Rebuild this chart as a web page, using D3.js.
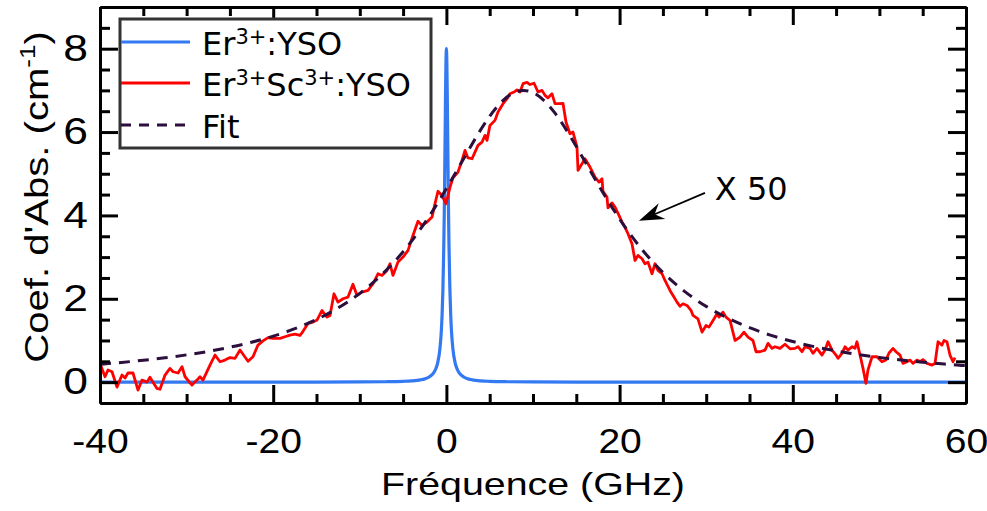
<!DOCTYPE html>
<html>
<head>
<meta charset="utf-8">
<script src="https://cdn.jsdelivr.net/npm/d3@7"></script>
<style>
html,body{margin:0;padding:0;background:#fff;}
svg{display:block;}
</style>
</head>
<body>
<svg id="chart" width="987" height="511"></svg>
<script>
// ---------- DATA ----------
// Er3+Sc3+:YSO spectrum (x50), [GHz, cm^-1]
const redSpectrum = [[-40.00,0.45],[-39.42,0.13],[-39.08,0.29],[-38.61,0.25],[-38.04,-0.12],[-37.46,0.17],[-37.11,0.10],[-36.77,0.22],[-36.19,0.22],[-35.61,-0.19],[-35.15,0.05],[-34.57,0.00],[-34.23,0.12],[-33.88,0.00],[-33.42,-0.15],[-33.07,-0.17],[-32.49,0.17],[-31.92,0.33],[-31.57,0.25],[-30.99,0.22],[-30.53,0.37],[-30.18,0.13],[-29.38,-0.07],[-28.80,0.05],[-28.45,0.13],[-28.11,0.05],[-27.30,0.41],[-26.72,0.65],[-26.14,0.49],[-25.57,0.53],[-24.99,0.59],[-24.41,0.57],[-23.83,0.77],[-22.91,0.50],[-22.33,0.61],[-21.76,0.89],[-21.18,0.99],[-20.60,1.07],[-20.02,1.05],[-19.21,1.05],[-18.64,1.09],[-18.06,1.13],[-17.48,1.15],[-16.91,1.12],[-16.56,1.22],[-15.98,1.41],[-15.40,1.44],[-14.94,1.49],[-14.36,1.72],[-13.79,1.56],[-13.44,1.60],[-12.98,2.12],[-12.52,1.92],[-11.94,2.00],[-11.36,2.04],[-10.79,2.35],[-10.32,2.08],[-9.75,2.16],[-9.05,2.20],[-8.48,2.36],[-7.90,2.60],[-7.44,2.56],[-6.86,2.68],[-6.51,2.84],[-6.17,2.56],[-5.59,2.88],[-5.01,3.00],[-4.43,3.16],[-3.86,3.52],[-3.28,3.86],[-2.82,3.76],[-2.24,3.84],[-1.66,3.96],[-1.32,4.28],[-0.97,4.58],[-0.51,4.48],[-0.05,4.28],[0.42,4.68],[0.76,4.90],[1.34,5.04],[1.80,5.32],[2.15,5.56],[2.49,5.38],[2.96,5.36],[3.30,5.52],[3.65,5.68],[4.11,5.76],[4.46,5.92],[4.69,5.80],[5.03,6.16],[5.61,6.28],[5.96,6.48],[6.54,6.68],[7.00,6.80],[7.34,6.92],[7.81,6.96],[8.15,7.01],[8.50,6.96],[8.85,7.16],[9.31,7.19],[9.65,7.14],[10.12,7.17],[10.58,6.96],[11.04,7.00],[11.39,6.88],[11.73,6.82],[12.19,6.92],[12.54,6.68],[13.00,6.68],[13.46,6.69],[13.81,6.24],[14.27,5.96],[14.62,6.00],[15.08,5.64],[15.20,5.08],[15.66,5.24],[16.00,5.36],[16.58,5.16],[17.16,4.92],[17.62,4.80],[17.97,4.88],[18.08,4.58],[18.54,4.44],[18.66,4.18],[19.12,4.30],[19.47,4.20],[19.93,4.00],[20.28,3.84],[20.62,3.72],[20.97,3.56],[21.43,3.32],[21.78,2.92],[22.12,3.04],[22.59,2.96],[22.93,2.84],[23.28,2.88],[23.74,2.60],[24.09,2.84],[24.43,2.68],[24.90,2.60],[25.24,2.44],[25.82,2.20],[26.17,2.08],[26.63,1.92],[26.97,1.82],[27.32,1.88],[27.78,1.84],[28.25,1.72],[28.48,1.60],[29.05,1.52],[29.52,1.20],[29.98,1.36],[30.32,1.32],[30.79,1.48],[31.25,1.64],[31.48,1.56],[31.94,1.68],[32.29,1.56],[32.75,1.48],[33.33,1.00],[33.90,1.08],[34.36,1.20],[34.83,1.08],[35.40,1.00],[35.75,0.73],[36.21,0.73],[36.79,0.77],[37.14,0.93],[37.60,0.81],[37.94,0.85],[38.52,0.81],[39.10,0.91],[39.68,0.80],[40.25,0.81],[40.60,0.85],[41.06,0.73],[41.41,0.85],[41.99,0.81],[42.33,0.69],[42.79,0.81],[43.37,0.65],[43.72,0.77],[44.07,0.97],[44.53,0.77],[44.99,0.65],[45.22,0.57],[45.68,0.69],[46.03,0.85],[46.37,0.77],[46.84,0.85],[47.18,0.81],[47.41,0.97],[47.76,0.65],[48.11,0.33],[48.45,-0.03],[48.68,0.29],[49.15,0.61],[49.72,0.61],[50.30,0.49],[50.76,0.53],[51.11,0.70],[51.57,0.81],[51.92,0.73],[52.38,0.65],[52.72,0.45],[53.19,0.49],[53.53,0.53],[53.88,0.45],[54.34,0.53],[54.69,0.49],[55.03,0.54],[55.50,0.45],[56.07,0.41],[56.42,0.45],[56.77,0.97],[57.23,0.89],[57.46,1.00],[57.80,0.97],[58.15,0.65],[58.50,0.49],[58.73,0.59]];

// Er3+:YSO spectrum, [GHz, cm^-1]
const blueSpectrum = [[-40,0.0003],[-30,0.0006],[-20,0.0012],[-10,0.005],[-7,0.010],[-5,0.020],[-4,0.031],[-3,0.055],[-2.5,0.079],[-2,0.123],[-1.5,0.216],[-1.25,0.31],[-1,0.47],[-0.75,0.80],[-0.6,1.18],[-0.5,1.60],[-0.4,2.25],[-0.3,3.28],[-0.25,4.00],[-0.2,4.88],[-0.15,5.88],[-0.1,6.90],[-0.05,7.69],[0,8.00],[0.05,7.69],[0.1,6.90],[0.15,5.88],[0.2,4.88],[0.25,4.00],[0.3,3.28],[0.4,2.25],[0.5,1.60],[0.6,1.18],[0.75,0.80],[1,0.47],[1.25,0.31],[1.5,0.216],[2,0.123],[2.5,0.079],[3,0.055],[4,0.031],[5,0.020],[7,0.010],[10,0.005],[20,0.0012],[30,0.0006],[40,0.0004],[50,0.0002],[60,0.0001]];

// Fit curve, [GHz, cm^-1]
const fitCurve = [[-40,0.429],[-37.5,0.474],[-35,0.525],[-32.5,0.585],[-30,0.655],[-27.5,0.738],[-25,0.838],[-22.5,0.958],[-20,1.103],[-17.5,1.282],[-15,1.503],[-12.5,1.781],[-10,2.130],[-7.5,2.572],[-5,3.129],[-2.5,3.822],[0,4.644],[2.5,5.546],[5,6.378],[7.5,6.913],[10,6.946],[12.5,6.464],[15,5.654],[17.5,4.751],[20,3.913],[22.5,3.205],[25,2.632],[27.5,2.178],[30,1.818],[32.5,1.534],[35,1.306],[37.5,1.123],[40,0.974],[42.5,0.851],[45,0.749],[47.5,0.664],[50,0.593],[52.5,0.532],[55,0.479],[57.5,0.434],[60,0.395]];

const xMajorTicks = [-40,-20,0,20,40,60];
const xMinorTicks = [-35,-30,-25,-15,-10,-5,5,10,15,25,30,35,45,50,55];
const yMajorTicks = [0,2,4,6,8];
const yMinorTicks = [0.5,1,1.5,2.5,3,3.5,4.5,5,5.5,6.5,7,7.5,8.5];
const seriesColors = {blue:"#3379f2", red:"#ff0000", fit:"#2c0f3d"};
const legendEntries = [
  {key:"blue", parts:[["Er",0],["3+",1],[":YSO",0]]},
  {key:"red",  parts:[["Er",0],["3+",1],["Sc",0],["3+",1],[":YSO",0]]},
  {key:"fit",  parts:[["Fit",0]]}
];
const annotation = {text:"X 50", from:[29.86,4.54], to:[22.24,3.87], textAt:[31.0,4.37]};

// ---------- LAYOUT ----------
const W = 987, H = 511;
const m = {left:100, right:21, top:7, bottom:108};
const svg = d3.select("#chart");
const x = d3.scaleLinear().domain([-40,60]).range([m.left, W-m.right]);
const y = d3.scaleLinear().domain([-0.5,9]).range([H-m.bottom, m.top]);
const axisFont = "'Liberation Sans', Arial, sans-serif";
const legFont = "'DejaVu Sans', Verdana, sans-serif";

svg.append("defs").append("clipPath").attr("id","clip")
  .append("rect").attr("x",m.left).attr("y",m.top)
  .attr("width",W-m.left-m.right).attr("height",H-m.top-m.bottom);

const plot = svg.append("g").attr("clip-path","url(#clip)");

plot.append("path").datum(blueSpectrum)
  .attr("d", d3.line().x(d=>x(d[0])).y(d=>y(d[1])).curve(d3.curveMonotoneX))
  .attr("fill","none").attr("stroke",seriesColors.blue).attr("stroke-width",3.2);

plot.append("path").datum(redSpectrum)
  .attr("d", d3.line().x(d=>x(d[0])).y(d=>y(d[1])))
  .attr("fill","none").attr("stroke",seriesColors.red).attr("stroke-width",2.8)
  .attr("stroke-linejoin","round");

plot.append("path").datum(fitCurve)
  .attr("d", d3.line().x(d=>x(d[0])).y(d=>y(d[1])).curve(d3.curveNatural))
  .attr("fill","none").attr("stroke",seriesColors.fit).attr("stroke-width",3)
  .attr("stroke-dasharray","11,8");

// ---------- AXES ----------
function styleAxis(g){
  g.select(".domain").attr("stroke","#000").attr("stroke-width",3);
  g.selectAll(".tick line").attr("stroke","#000").attr("stroke-width",3);
}
const xb = H-m.bottom, yl = m.left, xt = m.top, yr = W-m.right;

// bottom
svg.append("g").attr("transform",`translate(0,${xb})`)
  .call(d3.axisBottom(x).tickValues(xMinorTicks).tickSize(-9).tickSizeOuter(0).tickFormat(""))
  .call(styleAxis);
const gxb = svg.append("g").attr("transform",`translate(0,${xb})`)
  .call(d3.axisBottom(x).tickValues(xMajorTicks).tickSize(-18).tickSizeOuter(0).tickPadding(25).tickFormat(d=>String(d)))
  .call(styleAxis);
gxb.selectAll("text").attr("font-family",axisFont).attr("font-size",35.5).attr("fill","#000")
  .attr("transform","scale(1.1,1)");
// top
svg.append("g").attr("transform",`translate(0,${xt})`)
  .call(d3.axisTop(x).tickValues(xMinorTicks).tickSize(-9).tickSizeOuter(0).tickFormat(""))
  .call(styleAxis);
svg.append("g").attr("transform",`translate(0,${xt})`)
  .call(d3.axisTop(x).tickValues(xMajorTicks).tickSize(-18).tickSizeOuter(0).tickFormat(""))
  .call(styleAxis);
// left
svg.append("g").attr("transform",`translate(${yl},0)`)
  .call(d3.axisLeft(y).tickValues(yMinorTicks).tickSize(-10).tickSizeOuter(0).tickFormat(""))
  .call(styleAxis);
const gyl = svg.append("g").attr("transform",`translate(${yl},0)`)
  .call(d3.axisLeft(y).tickValues(yMajorTicks).tickSize(-18).tickSizeOuter(0).tickPadding(10).tickFormat(d=>String(d)))
  .call(styleAxis);
gyl.selectAll("text").attr("font-family",axisFont).attr("font-size",37).attr("fill","#000")
  .attr("transform","scale(1.2,1)");
// right
svg.append("g").attr("transform",`translate(${yr},0)`)
  .call(d3.axisRight(y).tickValues(yMinorTicks).tickSize(-10).tickSizeOuter(0).tickFormat(""))
  .call(styleAxis);
svg.append("g").attr("transform",`translate(${yr},0)`)
  .call(d3.axisRight(y).tickValues(yMajorTicks).tickSize(-18).tickSizeOuter(0).tickFormat(""))
  .call(styleAxis);

// axis titles
svg.append("text")
  .attr("transform",`translate(${(m.left+W-m.right)/2},495) scale(1.23,1)`)
  .attr("text-anchor","middle").attr("font-family",axisFont).attr("font-size",32).attr("fill","#000")
  .text("Fréquence (GHz)");

const yt = svg.append("text")
  .attr("transform",`translate(48,197) rotate(-90) scale(1.18,1)`)
  .attr("text-anchor","middle").attr("font-family",axisFont).attr("font-size",34).attr("fill","#000");
yt.append("tspan").text("Coef. d'Abs. (cm");
yt.append("tspan").attr("font-size",22).attr("dy",-13).text("-1");
yt.append("tspan").attr("dy",13).text(")");

// ---------- LEGEND ----------
const leg = svg.append("g");
leg.append("rect").attr("x",120).attr("y",19).attr("width",311).attr("height",129)
  .attr("fill","#fff").attr("stroke","#333").attr("stroke-width",3);
const rowY = [42,83,125];
const rows = leg.selectAll("g.row").data(legendEntries).join("g").attr("class","row")
  .attr("transform",(d,i)=>`translate(0,${rowY[i]})`);
rows.append("line").attr("x1",121).attr("x2",190).attr("y1",0).attr("y2",0)
  .attr("stroke",d=>seriesColors[d.key]).attr("stroke-width",3)
  .attr("stroke-dasharray",d=>d.key==="fit"?"10,8":null);
rows.each(function(d){
  const t = d3.select(this).append("text").attr("x",202).attr("y",13)
    .attr("font-family",legFont).attr("font-size",32).attr("fill","#000");
  let shifted = false;
  d.parts.forEach(p=>{
    const s = t.append("tspan").text(p[0]);
    if(p[1] && !shifted){ s.attr("font-size",21).attr("dy",-11); shifted = true; }
    else if(!p[1] && shifted){ s.attr("dy",11); shifted = false; }
  });
});

// ---------- ANNOTATION ----------
const [tx,ty] = [x(annotation.from[0]), y(annotation.from[1])];
const [hx,hy] = [x(annotation.to[0]), y(annotation.to[1])];
const dx = tx-hx, dy = ty-hy, len = Math.hypot(dx,dy);
const ux = dx/len, uy = dy/len, px = -uy, py = ux;
const L = 25, w = 8.5, notch = 17;
svg.append("line").attr("x1",tx).attr("y1",ty).attr("x2",hx+ux*notch).attr("y2",hy+uy*notch)
  .attr("stroke","#000").attr("stroke-width",1.8);
svg.append("path")
  .attr("d",`M${hx},${hy} L${hx+ux*L+px*w},${hy+uy*L+py*w} L${hx+ux*notch},${hy+uy*notch} L${hx+ux*L-px*w},${hy+uy*L-py*w} Z`)
  .attr("fill","#000");
svg.append("text").attr("x",x(annotation.textAt[0])).attr("y",y(annotation.textAt[1]))
  .attr("font-family",legFont).attr("font-size",32).attr("fill","#000").text(annotation.text);
</script>
</body>
</html>
